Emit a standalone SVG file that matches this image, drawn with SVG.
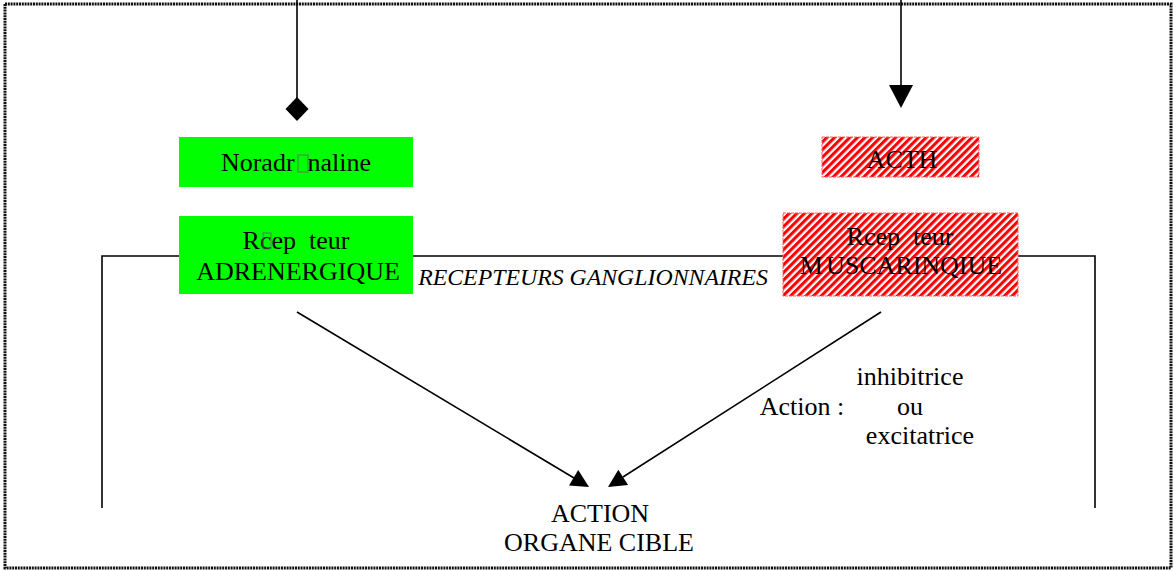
<svg xmlns="http://www.w3.org/2000/svg" width="1174" height="571" viewBox="0 0 1174 571">
<style>
.t{font-family:"Liberation Serif","Times New Roman",serif;font-size:26px;fill:#000;text-anchor:middle}
.i{font-style:italic;font-size:23.8px}
.ln{stroke:#000;stroke-width:1.6;fill:none}
.green{fill:#00ff00}
.hatch{fill:url(#stripes);stroke:#ff6060;stroke-width:1;stroke-dasharray:3 1}
.tofu{fill:none;stroke:#5a7a5a;stroke-width:1}
</style>
<defs>
<pattern id="stripes" patternUnits="userSpaceOnUse" width="5.4" height="5.4" patternTransform="rotate(45)">
<rect width="5.4" height="5.4" fill="#ffffff"/>
<rect width="3.1" height="5.4" fill="#ff0000"/>
</pattern>
</defs>
<rect x="5" y="4" width="1166" height="564" fill="none" stroke="#111" stroke-width="3" stroke-dasharray="2 0.8"/>
<g id="connectors">
<line class="ln" x1="297" y1="0" x2="297" y2="100"/>
<polygon points="297,97 308.5,109 297,121 285.5,109" fill="#000"/>
<line class="ln" x1="901" y1="0" x2="901" y2="88"/>
<polygon points="889,85 913,85 901,108" fill="#000"/>
<polyline class="ln" points="102,508 102,256 1095,256 1095,508"/>
<line class="ln" x1="297" y1="312" x2="574" y2="478"/>
<polygon points="589,487 578.2,470 569,485.4" fill="#000"/>
<line class="ln" x1="881" y1="312" x2="623" y2="477"/>
<polygon points="608,487 628.1,484.9 618.3,469.7" fill="#000"/>
</g>
<g id="noradrenaline">
<rect class="green" x="179" y="137" width="234" height="50"/>
<text class="t" x="296" y="171">Noradr<tspan fill="none">n</tspan>naline</text>
<rect class="tofu" x="298" y="155" width="10" height="17"/>
</g>
<g id="recepteur-adrenergique">
<rect class="green" x="179" y="216" width="234" height="78"/>
<text class="t" x="296" y="249" xml:space="preserve">Rcep  teur</text>
<rect class="tofu" x="263" y="233" width="8" height="16"/>
<text class="t" x="298" y="280">ADRENERGIQUE</text>
</g>
<g id="acth">
<rect class="hatch" x="822" y="137" width="157" height="40"/>
<text class="t" x="902" y="168">ACTH</text>
</g>
<g id="recepteur-muscarinique">
<rect class="hatch" x="783" y="213" width="235" height="83"/>
<text class="t" x="900" y="245" xml:space="preserve">Rcep  teur</text>
<text class="t" x="901" y="274">M<tspan dx="3">USCARINQIUE</tspan></text>
</g>
<g id="recepteurs-ganglionnaires">
<text class="t i" x="593" y="285">RECEPTEURS GANGLIONNAIRES</text>
</g>
<g id="action-label">
<text class="t" x="910" y="385">inhibitrice</text>
<text class="t" x="802" y="415">Action :</text>
<text class="t" x="910" y="415">ou</text>
<text class="t" x="920" y="444">excitatrice</text>
</g>
<g id="action-organe-cible">
<text class="t" x="600" y="522">ACTION</text>
<text class="t" x="599" y="551">ORGANE CIBLE</text>
</g>
</svg>
